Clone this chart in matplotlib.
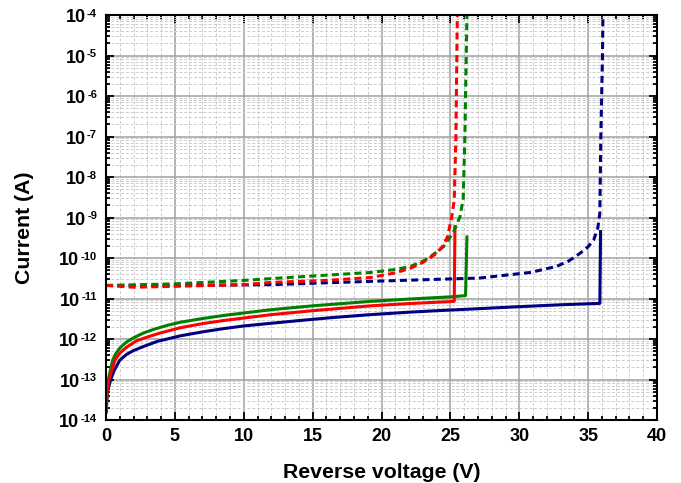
#!/usr/bin/env python
import matplotlib
matplotlib.use('Agg')
import matplotlib.pyplot as plt
import numpy as np
from matplotlib.ticker import MultipleLocator, LogLocator, NullFormatter

plt.rcParams['font.family'] = 'Liberation Sans'
plt.rcParams['font.weight'] = 'bold'

# solid curves (V, A)
navy_v = [0.01, 0.1, 0.34, 0.6, 1.0, 1.5, 2, 2.7, 3.7, 5.4, 7, 8.5, 10, 12, 14, 16.5, 19.2,
          22, 24, 27, 30, 33, 35.85, 35.9]
navy_i = [1.6e-14, 5e-14, 1e-13, 1.7e-13, 3e-13, 4.2e-13, 5.2e-13, 6.5e-13, 8.7e-13, 1.2e-12,
          1.5e-12, 1.8e-12, 2.1e-12, 2.45e-12, 2.85e-12, 3.4e-12, 4.0e-12, 4.6e-12, 5e-12,
          5.6e-12, 6.3e-12, 7e-12, 7.6e-12, 4.5e-10]

red_v = [0.01, 0.08, 0.22, 0.65, 1.0, 1.5, 2.2, 3, 3.9, 5.4, 7, 8.5, 10, 12, 15, 19.2, 22,
         25, 25.28, 25.33]
red_i = [1.6e-14, 5.5e-14, 1e-13, 3e-13, 4.5e-13, 6.3e-13, 9e-13, 1.12e-12, 1.4e-12, 1.9e-12,
         2.4e-12, 2.85e-12, 3.3e-12, 4.0e-12, 5.0e-12, 6.6e-12, 7.5e-12, 8.4e-12, 8.6e-12, 6e-10]

green_v = [0.01, 0.07, 0.17, 0.48, 0.7, 1.0, 1.5, 2, 2.7, 3.5, 4.5, 5.4, 7, 8.5, 10, 12, 15,
           19.2, 22, 25, 26.1, 26.2]
green_i = [1.8e-14, 6e-14, 1e-13, 3e-13, 4.3e-13, 6e-13, 8.5e-13, 1.07e-12, 1.4e-12, 1.75e-12,
           2.2e-12, 2.6e-12, 3.2e-12, 3.8e-12, 4.4e-12, 5.3e-12, 6.6e-12, 8.5e-12, 9.7e-12,
           1.1e-11, 1.18e-11, 3.3e-10]

# dashed curves (V, A)
navy_d_v = [0, 5, 12, 19.9, 27.1, 30.8, 32.7, 33.6, 34.4, 35, 35.4, 35.7, 35.85, 35.92,
            36.04, 36.07]
navy_d_i = [2.1e-11, 2.1e-11, 2.2e-11, 2.7e-11, 3.2e-11, 4.4e-11, 6.2e-11, 8.5e-11, 1.3e-10,
            1.9e-10, 2.8e-10, 5.5e-10, 1.3e-9, 1e-7, 1e-5, 1e-4]

red_d_v = [0, 2, 5, 10, 12, 16, 19.2, 21, 22.1, 23, 24, 24.5, 24.8, 25.1, 25.28, 25.4, 25.5]
red_d_i = [2.1e-11, 1.9e-11, 2.0e-11, 2.2e-11, 2.5e-11, 2.8e-11, 3.3e-11, 4.3e-11, 5.6e-11,
           7.8e-11, 1.3e-10, 2.1e-10, 3.4e-10, 1.05e-9, 2.7e-9, 1e-7, 1e-4]

green_d_v = [0, 5, 10, 12.6, 19.2, 21, 22.1, 23, 23.5, 24.5, 25.2, 25.7, 25.93, 26.05, 26.2]
green_d_i = [2.1e-11, 2.3e-11, 2.8e-11, 3.2e-11, 4.4e-11, 5.2e-11, 6.2e-11, 8.3e-11, 1.05e-10,
             1.9e-10, 4.2e-10, 1.05e-9, 3e-9, 1e-7, 1e-4]

decades = list(range(-14, -3))

fig = plt.figure(figsize=(6.81, 4.83), dpi=100)
ax = fig.add_axes([0.1557, 0.1304, 0.8091, 0.8385])

lw = 2.2
dash = (2.3, 1.4)
ax.plot(navy_v, navy_i, color='#000080', lw=lw)
ax.plot(green_v, green_i, color='#008000', lw=lw)
ax.plot(red_v, red_i, color='#ff0000', lw=lw)
ax.plot(navy_d_v, navy_d_i, color='#000080', lw=lw, dashes=dash)
ax.plot(green_d_v, green_d_i, color='#008000', lw=lw, dashes=dash)
ax.plot(red_d_v, red_d_i, color='#ff0000', lw=lw, dashes=dash)

ax.set_yscale('log')
ax.set_xlim(0, 40)
ax.set_ylim(1e-14, 1e-4)

ax.xaxis.set_major_locator(MultipleLocator(5))
ax.xaxis.set_minor_locator(MultipleLocator(1))
ax.yaxis.set_major_locator(LogLocator(base=10, numticks=20))
ax.yaxis.set_minor_locator(LogLocator(base=10, subs=np.arange(2, 10), numticks=20))
ax.yaxis.set_major_formatter(NullFormatter())
ax.yaxis.set_minor_formatter(NullFormatter())

# y tick labels: "10" with a small superscript exponent
for e in decades:
    t = ax.annotate('%d' % e, xy=(0, 10.0**e), xycoords=('axes fraction', 'data'),
                    xytext=(-6.5, 4.5), textcoords='offset points',
                    ha='right', va='top', fontsize=8, fontweight='bold')
    ax.annotate('10', xy=(0, 10.0**e), xycoords=(t, 'data'),
                xytext=(-1, -2), textcoords='offset points',
                ha='right', va='center', fontsize=13, fontweight='bold')

#grid
ax.set_axisbelow(True)
ax.grid(which='major', color='#a0a0a0', lw=1.1, ls='-')
ax.grid(which='minor', color='#cccccc', lw=0.7, ls=(0, (3, 2)))

ax.tick_params(which='both', direction='in', top=True, right=True, width=1.3)
ax.tick_params(which='major', length=6, labelsize=13, pad=6)
ax.tick_params(which='minor', length=3)
for s in ax.spines.values():
    s.set_linewidth(1.5)

ax.set_xlabel('Reverse voltage (V)', fontsize=15.3, fontweight='bold', labelpad=13)
ax.set_ylabel('Current (A)', fontsize=15.3, fontweight='bold')
ax.yaxis.set_label_coords(-0.13, 0.474)

fig.savefig('out.png', dpi=100)
